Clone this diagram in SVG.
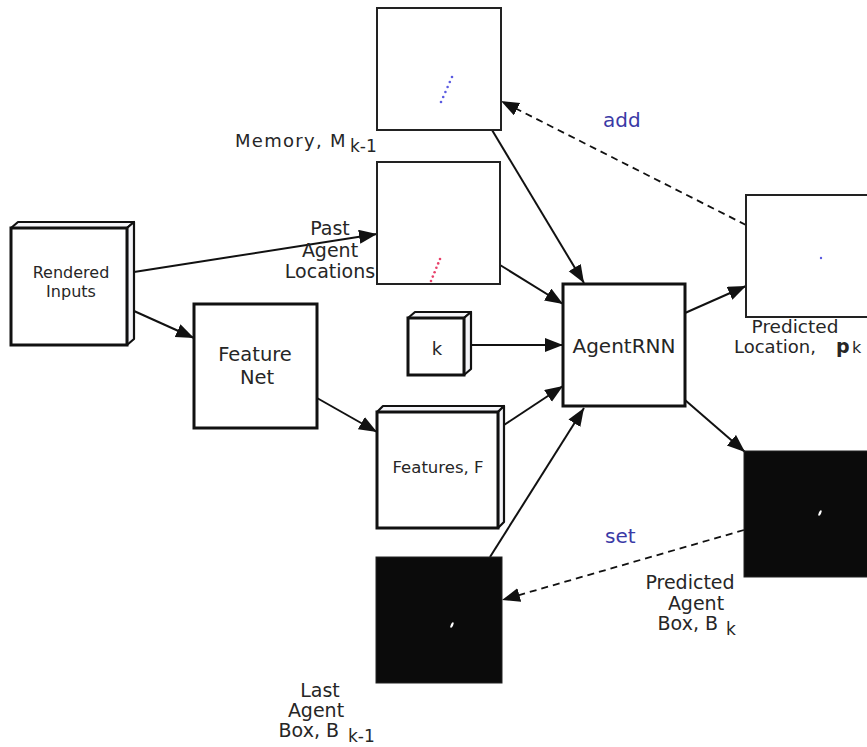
<svg xmlns="http://www.w3.org/2000/svg" width="867" height="747" viewBox="0 0 867 747">
<defs>
<style>
.t{font-family:"DejaVu Sans","Verdana",sans-serif;fill:#262626}
.box{fill:#fff;stroke:#111;stroke-width:3}
.thin{fill:#fff;stroke:#222;stroke-width:2}
.side{fill:#f4f4f8;stroke:#111;stroke-width:2.2;stroke-linejoin:round}
.blk{fill:#0b0b0b;stroke:#222;stroke-width:1}
.c{fill:none;stroke:#111;stroke-width:2}
.d{fill:none;stroke:#111;stroke-width:1.8;stroke-dasharray:7 5}
.lbl{font-family:"DejaVu Sans","Verdana",sans-serif;fill:#3a3aa6;font-size:20px}
</style>
<marker id="ah" markerUnits="userSpaceOnUse" markerWidth="20" markerHeight="16" refX="18" refY="7" orient="auto">
<path d="M0,0 L18,7 L0,14 z" fill="#111"/>
</marker>
</defs>
<rect width="867" height="747" fill="#fff"/>

<g id="connectors">
<line class="c" x1="134" y1="272" x2="377" y2="234" marker-end="url(#ah)"/>
<line class="c" x1="134" y1="311" x2="194" y2="338" marker-end="url(#ah)"/>
<line class="c" x1="317" y1="398" x2="377" y2="432" marker-end="url(#ah)"/>
<line class="c" x1="492" y1="130" x2="584" y2="283" marker-end="url(#ah)"/>
<line class="c" x1="500" y1="265" x2="563" y2="304" marker-end="url(#ah)"/>
<line class="c" x1="471" y1="345" x2="563" y2="345" marker-end="url(#ah)"/>
<line class="c" x1="504" y1="425" x2="563" y2="386" marker-end="url(#ah)"/>
<line class="c" x1="490" y1="557" x2="584" y2="408" marker-end="url(#ah)"/>
<line class="c" x1="685" y1="313" x2="746" y2="286" marker-end="url(#ah)"/>
<line class="c" x1="685" y1="400" x2="745" y2="452" marker-end="url(#ah)"/>
<line class="d" x1="746" y1="225" x2="501" y2="101" marker-end="url(#ah)"/>
<line class="d" x1="744" y1="530" x2="502" y2="600" marker-end="url(#ah)"/>
<text class="lbl" x="603" y="127">add</text>
<text class="lbl" x="605" y="543">set</text>
</g>

<g id="rendered-inputs">
<polygon class="side" points="11,228 18,222 134,222 127,228"/>
<polygon class="side" points="127,228 134,222 134,339 127,345"/>
<rect class="box" x="11" y="228" width="116" height="117"/>
<text class="t" font-size="16" text-anchor="middle" x="71" y="278">Rendered</text>
<text class="t" font-size="16" text-anchor="middle" x="71" y="297">Inputs</text>
</g>

<g id="memory">
<rect class="thin" x="377" y="8" width="124" height="122"/>
<g fill="#5a5ae0">
<circle cx="441" cy="102" r="1.3"/><circle cx="443.2" cy="97" r="1.3"/><circle cx="445.4" cy="92" r="1.3"/><circle cx="447.6" cy="87" r="1.3"/><circle cx="449.8" cy="82" r="1.3"/><circle cx="452" cy="77" r="1.3"/>
</g>
<text class="t" font-size="18" letter-spacing="1.3" x="235" y="147">Memory, M</text>
<text class="t" font-size="17" x="350" y="152">k-1</text>
</g>

<g id="past-agent-locations">
<rect class="thin" x="377" y="162" width="123" height="122"/>
<g fill="#e8406a">
<circle cx="431" cy="281" r="1.3"/><circle cx="432.8" cy="276.6" r="1.3"/><circle cx="434.6" cy="272.2" r="1.3"/><circle cx="436.4" cy="267.8" r="1.3"/><circle cx="438.2" cy="263.4" r="1.3"/><circle cx="440" cy="259" r="1.3"/>
</g>
<text class="t" font-size="19" text-anchor="middle" x="330" y="235">Past</text>
<text class="t" font-size="19" text-anchor="middle" x="330" y="257">Agent</text>
<text class="t" font-size="19" text-anchor="middle" x="330" y="278">Locations</text>
</g>

<g id="feature-net">
<rect class="box" x="194" y="304" width="123" height="124"/>
<text class="t" font-size="19.5" text-anchor="middle" x="255" y="361">Feature</text>
<text class="t" font-size="19.5" text-anchor="middle" x="257" y="384">Net</text>
</g>

<g id="k">
<polygon class="side" points="408,318 415,312 471,312 464,318"/>
<polygon class="side" points="464,318 471,312 471,369 464,375"/>
<rect class="box" x="408" y="318" width="56" height="57"/>
<text class="t" font-size="18" text-anchor="middle" x="437" y="355">k</text>
</g>

<g id="features">
<polygon class="side" points="377,412 383,406 504,406 498,412"/>
<polygon class="side" points="498,412 504,406 504,522 498,528"/>
<rect class="box" x="377" y="412" width="121" height="116"/>
<text class="t" font-size="16.5" text-anchor="middle" x="438" y="473">Features, F</text>
</g>

<g id="agent-rnn">
<rect class="box" x="563" y="284" width="122" height="122"/>
<text class="t" font-size="20" text-anchor="middle" x="624" y="353">AgentRNN</text>
</g>

<g id="predicted-location">
<rect class="thin" x="746" y="195" width="130" height="122"/>
<circle cx="821" cy="258" r="1.2" fill="#5a5ae0"/>
<text class="t" font-size="18.5" text-anchor="middle" x="795" y="333">Predicted</text>
<text class="t" font-size="18" x="734" y="353">Location,</text>
<text class="t" font-size="19" font-weight="bold" x="836" y="353">p</text>
<text class="t" font-size="16" x="852" y="353">k</text>
</g>

<g id="predicted-agent-box">
<rect class="blk" x="744" y="451" width="130" height="126"/>
<ellipse cx="820" cy="513" rx="1.2" ry="3" transform="rotate(25 820 513)" fill="#fff"/>
<text class="t" font-size="19" text-anchor="middle" x="690" y="589">Predicted</text>
<text class="t" font-size="19" text-anchor="middle" x="696" y="610">Agent</text>
<text class="t" font-size="19" text-anchor="end" x="718" y="630">Box, B</text>
<text class="t" font-size="17" x="726" y="635">k</text>
</g>

<g id="last-agent-box">
<rect class="blk" x="376" y="557" width="126" height="126"/>
<ellipse cx="452" cy="625" rx="1.2" ry="3" transform="rotate(25 452 625)" fill="#fff"/>
<text class="t" font-size="19" text-anchor="middle" x="320" y="697">Last</text>
<text class="t" font-size="19" text-anchor="middle" x="316" y="717">Agent</text>
<text class="t" font-size="19" text-anchor="end" x="339" y="737">Box, B</text>
<text class="t" font-size="17" x="348" y="742">k-1</text>
</g>
</svg>
